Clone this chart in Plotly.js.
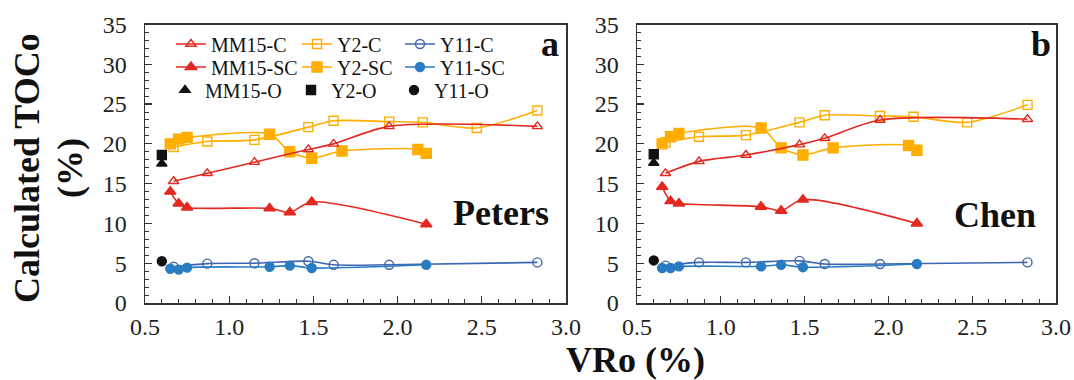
<!DOCTYPE html>
<html><head><meta charset="utf-8">
<script src="https://cdn.plot.ly/plotly-3.0.1.min.js"></script>
<style>html,body{margin:0;padding:0;background:#fff}</style>
</head><body><div id="chart" style="width:1074px;height:380px"></div>
<script>
// ---- data ----
const vroC    = [0.67, 0.87, 1.15, 1.47, 1.62, 1.95, 2.83];
const vroY2C  = [0.67, 0.87, 1.15, 1.47, 1.62, 1.95, 2.15, 2.47, 2.83];
const vroSC   = [0.65, 0.70, 0.75, 1.24, 1.36, 1.49, 2.17];
const vroY2SC = [0.65, 0.70, 0.75, 1.24, 1.36, 1.49, 1.67, 2.12, 2.17];
const vroO    = [0.60];

// Peters (panel a)
const petersMM15C  = [15.3, 16.3, 17.7, 19.3, 20.0, 22.2, 22.2];
const petersY2C    = [19.6, 20.3, 20.5, 22.1, 22.9, 22.8, 22.7, 22.0, 24.2];
const petersY11C   = [4.55, 4.95, 5.0, 5.25, 4.8, 4.8, 5.1];
const petersMM15SC = [14.0, 12.5, 12.0, 11.9, 11.4, 12.7, 9.9];
const petersY2SC   = [20.0, 20.6, 20.8, 21.2, 19.0, 18.2, 19.1, 19.3, 18.8];
const petersY11SC  = [4.3, 4.2, 4.45, 4.55, 4.7, 4.4, 4.8];
const petersMM15O  = [17.5];
const petersY2O    = [18.6];
const petersY11O   = [5.25];

// Chen (panel b)
const chenMM15C  = [16.3, 17.8, 18.6, 19.9, 20.7, 23.0, 23.1];
const chenY2C    = [20.2, 20.9, 21.1, 22.7, 23.6, 23.5, 23.4, 22.7, 24.9];
const chenY11C   = [4.7, 5.1, 5.1, 5.3, 4.9, 4.9, 5.1];
const chenMM15SC = [14.6, 12.8, 12.5, 12.1, 11.6, 13.0, 10.0];
const chenY2SC   = [20.0, 20.9, 21.3, 22.0, 19.5, 18.6, 19.5, 19.8, 19.2];
const chenY11SC  = [4.4, 4.4, 4.6, 4.6, 4.8, 4.5, 4.9];
const chenMM15O  = [17.6];
const chenY2O    = [18.7];
const chenY11O   = [5.35];

const seriesNames = ['MM15-C','Y2-C','Y11-C','MM15-SC','Y2-SC','Y11-SC','MM15-O','Y2-O','Y11-O'];

// ---- styles ----
const RED = '#E3281F', ORANGE = '#FFAE00', BLUE_C = '#3E66B0', BLUE_SC = '#2A7CC2';
const styles = {
  'MM15-C':  {mode:'lines+markers', line:RED, sym:'triangle-up-open', mc:RED, size:9},
  'Y2-C':    {mode:'lines+markers', line:ORANGE, sym:'square-open', mc:ORANGE, size:9},
  'Y11-C':   {mode:'lines+markers', line:BLUE_C, sym:'circle-open', mc:BLUE_C, size:9},
  'MM15-SC': {mode:'lines+markers', line:RED, sym:'triangle-up', mc:RED, size:10},
  'Y2-SC':   {mode:'lines+markers', line:ORANGE, sym:'square', mc:ORANGE, size:10},
  'Y11-SC':  {mode:'lines+markers', line:BLUE_SC, sym:'circle', mc:BLUE_SC, size:9},
  'MM15-O':  {mode:'markers', line:'#000', sym:'triangle-up', mc:'#111', size:9},
  'Y2-O':    {mode:'markers', line:'#000', sym:'square', mc:'#111', size:9},
  'Y11-O':   {mode:'markers', line:'#000', sym:'circle', mc:'#111', size:9}
};

const panels = [
  {xa:'x', ya:'y', legend:true, data:{
    'MM15-C':[vroC, petersMM15C], 'Y2-C':[vroY2C, petersY2C], 'Y11-C':[vroC, petersY11C],
    'MM15-SC':[vroSC, petersMM15SC], 'Y2-SC':[vroY2SC, petersY2SC], 'Y11-SC':[vroSC, petersY11SC],
    'MM15-O':[vroO, petersMM15O], 'Y2-O':[vroO, petersY2O], 'Y11-O':[vroO, petersY11O]}},
  {xa:'x2', ya:'y2', legend:false, data:{
    'MM15-C':[vroC, chenMM15C], 'Y2-C':[vroY2C, chenY2C], 'Y11-C':[vroC, chenY11C],
    'MM15-SC':[vroSC, chenMM15SC], 'Y2-SC':[vroY2SC, chenY2SC], 'Y11-SC':[vroSC, chenY11SC],
    'MM15-O':[vroO, chenMM15O], 'Y2-O':[vroO, chenY2O], 'Y11-O':[vroO, chenY11O]}}
];

const drawOrder = ['Y11-C','Y11-SC','Y2-C','Y2-SC','MM15-C','MM15-SC','MM15-O','Y2-O','Y11-O'];
const traces = [];
panels.forEach(p => {
  drawOrder.forEach(name => {
    const s = styles[name];
    const d = p.data[name];
    const idx = seriesNames.indexOf(name);
    const t = {
      type:'scatter', mode:s.mode, name:name, x:d[0], y:d[1],
      xaxis:p.xa, yaxis:p.ya,
      line:{color:s.line, width:1.6, shape:'spline', smoothing:0.8},
      marker:{symbol:s.sym, color:s.mc, size:s.size, line:{color:s.mc, width:1.4}},
      showlegend:p.legend,
      legend: idx === 0 ? 'legend' : 'legend' + (idx + 1)
    };
    traces.push(t);
  });
});

// ---- layout ----
const W = 1074, H = 380;
const px = v => v / W, py = v => (H - v) / H;
const FONT = 'Liberation Serif, Times New Roman, serif';

function axisX(domain, anchor) {
  return {domain:domain, anchor:anchor, range:[0.5, 3.0], dtick:0.5, tick0:0.5, tickformat:'.1f',
    ticks:'inside', ticklen:7, tickwidth:1.2, tickcolor:'#333',
    minor:{dtick:0.1, ticks:'inside', ticklen:4, tickcolor:'#333', tickwidth:1},
    showline:true, linecolor:'#333', linewidth:1.5, mirror:true,
    showgrid:false, zeroline:false, automargin:false,
    tickfont:{family:FONT, size:24, color:'#222'}, ticklabelstandoff:2};
}
function axisY(domain, anchor) {
  return {domain:domain, anchor:anchor, range:[0, 35], dtick:5, tick0:0,
    ticks:'inside', ticklen:7, tickwidth:1.2, tickcolor:'#333',
    minor:{dtick:1, ticks:'inside', ticklen:4, tickcolor:'#333', tickwidth:1},
    showline:true, linecolor:'#333', linewidth:1.5, mirror:true,
    showgrid:false, zeroline:false, automargin:false,
    tickfont:{family:FONT, size:24, color:'#222'}, ticklabelstandoff:12};
}

const yDom = [py(303), py(24.5)];
const layout = {
  width:W, height:H, margin:{l:0, r:0, t:0, b:0},
  paper_bgcolor:'#fff', plot_bgcolor:'#fff',
  xaxis: axisX([px(145), px(566)], 'y'),
  yaxis: axisY(yDom, 'x'),
  xaxis2: axisX([px(637), px(1056)], 'y2'),
  yaxis2: axisY(yDom, 'x2'),
  annotations:[
    {text:'<b>Calculated TOCo</b>', xref:'paper', yref:'paper', x:px(27), y:py(168), textangle:-90,
     showarrow:false, xanchor:'center', yanchor:'middle', font:{family:FONT, size:36, color:'#111'}},
    {text:'<b>(%)</b>', xref:'paper', yref:'paper', x:px(70), y:py(168), textangle:-90,
     showarrow:false, xanchor:'center', yanchor:'middle', font:{family:FONT, size:36, color:'#111'}},
    {text:'<b>VRo (%)</b>', xref:'paper', yref:'paper', x:px(635), y:py(360),
     showarrow:false, xanchor:'center', yanchor:'middle', font:{family:FONT, size:36, color:'#111'}},
    {text:'<b>Peters</b>', xref:'paper', yref:'paper', x:px(501), y:py(213),
     showarrow:false, xanchor:'center', yanchor:'middle', font:{family:FONT, size:36, color:'#111'}},
    {text:'<b>Chen</b>', xref:'paper', yref:'paper', x:px(995), y:py(215),
     showarrow:false, xanchor:'center', yanchor:'middle', font:{family:FONT, size:36, color:'#111'}},
    {text:'<b>a</b>', xref:'paper', yref:'paper', x:px(550), y:py(44),
     showarrow:false, xanchor:'center', yanchor:'middle', font:{family:FONT, size:36, color:'#111'}},
    {text:'<b>b</b>', xref:'paper', yref:'paper', x:px(1041), y:py(44),
     showarrow:false, xanchor:'center', yanchor:'middle', font:{family:FONT, size:36, color:'#111'}}
  ]
};

// one legend per entry so the 3x3 grid matches the reference
const colX = [177, 303, 406];
const rowY = [44, 67, 90];
seriesNames.forEach((name, i) => {
  const col = i % 3, row = Math.floor(i / 3);
  const key = i === 0 ? 'legend' : 'legend' + (i + 1);
  const shift = row === 2 ? -6 : 0;
  layout[key] = {x:px(colX[col] - 6 + shift), y:py(rowY[row]), xanchor:'left', yanchor:'middle',
    xref:'paper', yref:'paper', bgcolor:'rgba(0,0,0,0)', borderwidth:0, itemwidth:30,
    font:{family:FONT, size:20, color:'#111'}};
});

Plotly.newPlot('chart', traces, layout, {displayModeBar:false, staticPlot:true});
</script></body></html>
